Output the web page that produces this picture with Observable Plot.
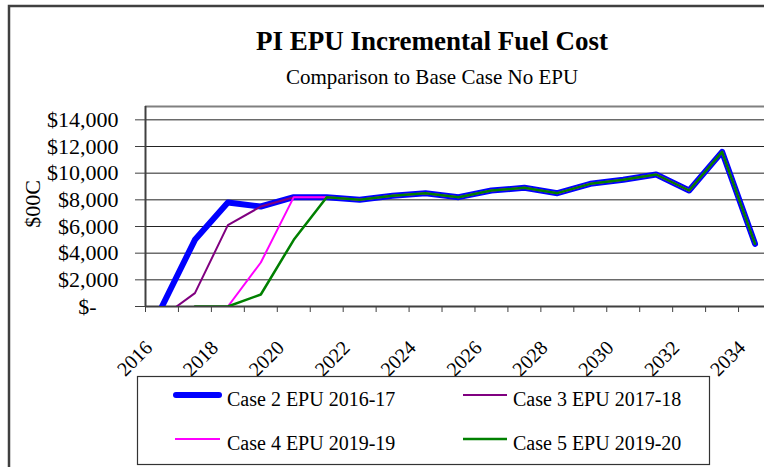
<!DOCTYPE html>
<html><head><meta charset="utf-8">
<script src="https://cdn.jsdelivr.net/npm/d3@7"></script>
<script src="https://cdn.jsdelivr.net/npm/@observablehq/plot@0.6"></script>
<style>
body{margin:0;background:#fff;}
#chart{position:relative;width:764px;height:467px;overflow:hidden;}
#chart svg{display:block;}
</style></head><body><div id="chart"></div>
<script>
const years = [2016,2017,2018,2019,2020,2021,2022,2023,2024,2025,2026,2027,2028,2029,2030,2031,2032,2033,2034];
const case2 = [0,5000,7800,7500,8200,8200,8000,8300,8500,8200,8700,8900,8500,9200,9500,9900,8700,11600,4700];
const case3 = [-800,1000,6100,7500,8200,8200,8000,8300,8500,8200,8700,8900,8500,9200,9500,9900,8700,11600,4700];
const case4 = [null,0,0,3300,8200,8200,8000,8300,8500,8200,8700,8900,8500,9200,9500,9900,8700,11600,4700];
const case5 = [null,0,0,900,5000,8200,8000,8300,8500,8200,8700,8900,8500,9200,9500,9900,8700,11600,4700];
const seriesNames = ["Case 2 EPU 2016-17","Case 3 EPU 2017-18","Case 4 EPU 2019-19","Case 5 EPU 2019-20"];
const seriesColors = ["#0000ff","#800080","#ff00ff","#008000"];
const seriesWidths = [6,2,2,2.5];
const yTicks = [0,2000,4000,6000,8000,10000,12000,14000];
const labelYears = [2016,2018,2020,2022,2024,2026,2028,2030,2032,2034];
const titleText = "PI EPU Incremental Fuel Cost";
const subtitleText = "Comparison to Base Case No EPU";
const yTitle = "$00C";

const seriesValues = [case2, case3, case4, case5];
const rows = [];
seriesValues.forEach((vals, s) => years.forEach((yr, i) => rows.push({series: seriesNames[s], year: yr, value: vals[i]})));
const boundaries = years.map(y => y - 0.5).concat([years[years.length-1] + 0.5]);
const serif = "'Liberation Serif','Times New Roman',serif";
const fmt = v => v === 0 ? "$-\u00a0\u00a0\u00a0\u00a0" : "$" + d3.format(",")(v);

const lineMarks = seriesNames.map((name, s) => Plot.line(rows.filter(r => r.series === name), {
  x: "year", y: "value", stroke: seriesColors[s], strokeWidth: seriesWidths[s],
  strokeLinejoin: "round", strokeLinecap: "round", clip: true
}));

const plot = Plot.plot({
  width: 764, height: 467,
  marginLeft: 145, marginRight: 0, marginTop: 106, marginBottom: 161,
  style: {fontFamily: serif, color: "#000", background: "#fff"},
  x: {type: "linear", domain: [years[0] - 0.5, years[years.length-1] + 0.5], range: [145, 771], axis: null},
  y: {domain: [0, 15000], axis: null},
  marks: [
    Plot.ruleY(yTicks.filter(v => v > 0), {stroke: "#222", strokeWidth: 1}),
    Plot.ruleY([15000], {stroke: "#808080", strokeWidth: 2}),
    Plot.ruleX([boundaries[0]], {stroke: "#404040", strokeWidth: 2}),
    Plot.ruleY([0], {stroke: "#404040", strokeWidth: 2}),
    ...lineMarks,
    Plot.axisY({ticks: yTicks, tickSize: 10, tickPadding: 17, tickFormat: fmt, fontSize: 22, stroke: "#404040", fill: "#000", label: null}),
    Plot.axisX({ticks: boundaries, tickSize: 6, tickFormat: () => "", stroke: "#404040", label: null}),
    Plot.text(labelYears, {x: d => d, text: d => String(d), frameAnchor: "bottom", dx: -13, dy: 38, rotate: -45, textAnchor: "end", lineAnchor: "middle", fontSize: 20, fill: "#000"})
  ]
});

document.getElementById("chart").appendChild(plot);
const svg = d3.select(plot);

svg.append("rect").attr("x", 9).attr("y", 6).attr("width", 1200).attr("height", 1200)
  .attr("fill", "none").attr("stroke", "#404040").attr("stroke-width", 2.5);

svg.append("text").attr("x", 432).attr("y", 50).attr("text-anchor", "middle")
  .style("font-family", serif).style("font-size", "27px").style("font-weight", "bold").attr("fill", "#000").text(titleText);
svg.append("text").attr("x", 432).attr("y", 84).attr("text-anchor", "middle")
  .style("font-family", serif).style("font-size", "21px").attr("fill", "#000").text(subtitleText);
svg.append("text").attr("transform", "translate(40,204) rotate(-90)").attr("text-anchor", "middle")
  .style("font-family", serif).style("font-size", "22px").attr("fill", "#000").text(yTitle);

const lg = svg.append("g");
lg.append("rect").attr("x", 137.5).attr("y", 376.5).attr("width", 572).attr("height", 88)
  .attr("fill", "#fff").attr("stroke", "#333").attr("stroke-width", 1.2);
const legendPos = [
  {lx1: 176, lx2: 219, tx: 227, ly: 395, ty: 406},
  {lx1: 463, lx2: 507, tx: 513, ly: 395, ty: 406},
  {lx1: 175, lx2: 220, tx: 227, ly: 439, ty: 450},
  {lx1: 463, lx2: 507, tx: 513, ly: 439, ty: 450}
];
seriesNames.forEach((name, s) => {
  const p = legendPos[s];
  lg.append("line").attr("x1", p.lx1).attr("x2", p.lx2).attr("y1", p.ly).attr("y2", p.ly)
    .attr("stroke", seriesColors[s]).attr("stroke-width", seriesWidths[s]).attr("stroke-linecap", s === 0 ? "round" : "butt");
  lg.append("text").attr("x", p.tx).attr("y", p.ty).attr("text-anchor", "start")
    .style("font-family", serif).style("font-size", "20px").attr("fill", "#000").text(name);
});
</script></body></html>
